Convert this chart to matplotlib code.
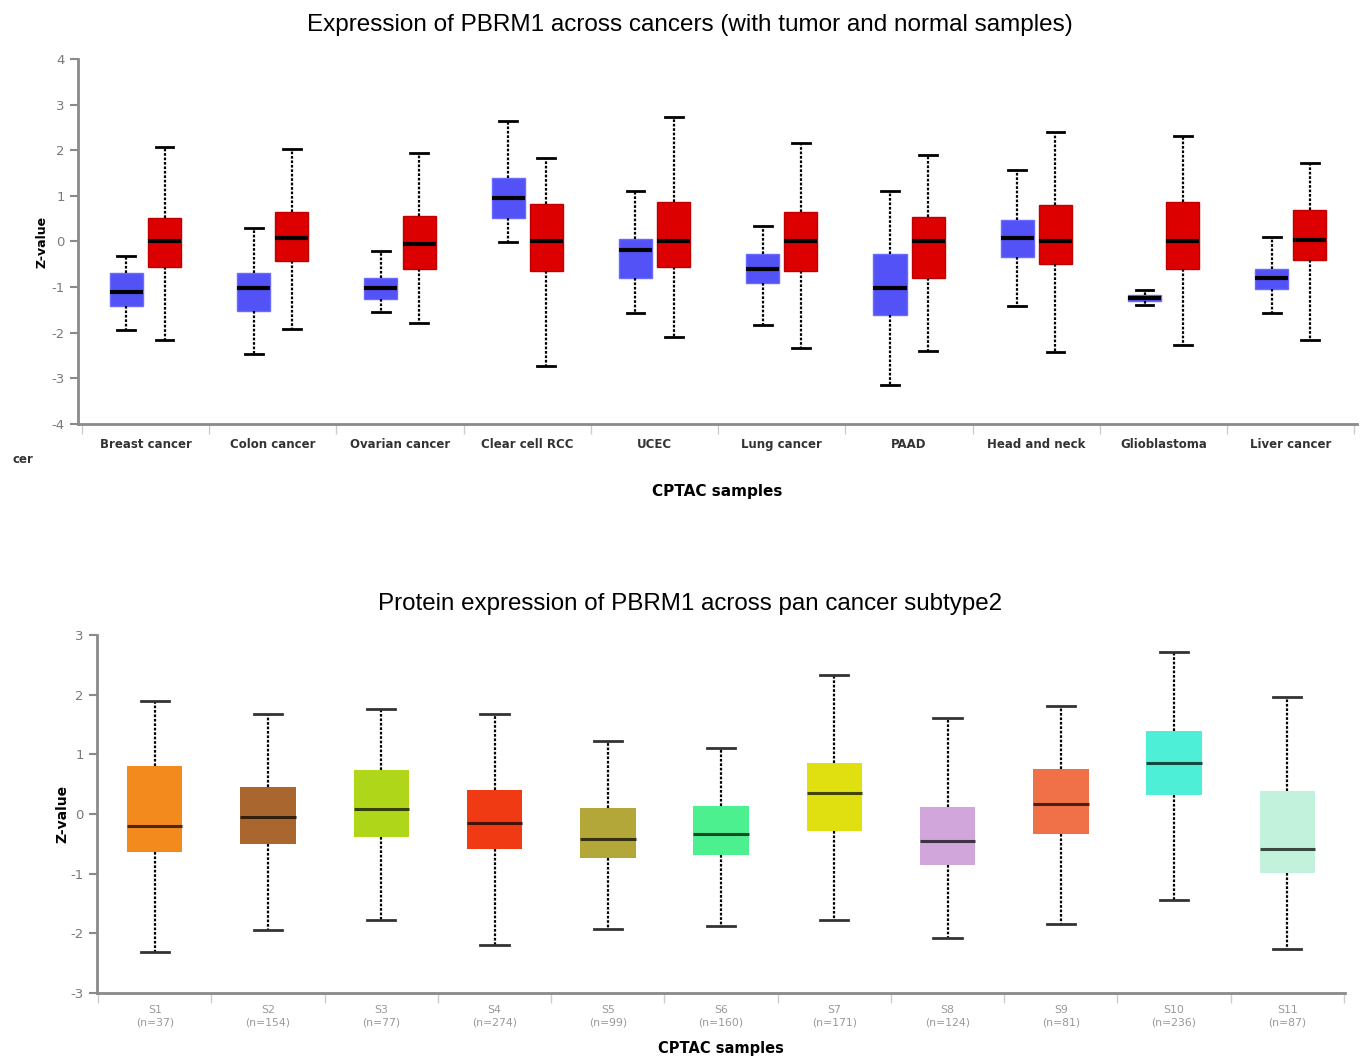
import matplotlib
matplotlib.use("Agg")
import matplotlib.pyplot as plt
import numpy as np
from matplotlib.colors import to_rgb

plt.rcParams['axes.unicode_minus'] = False

# ---- Top chart data: tumor vs normal per cancer ----
cancers = ['Breast cancer', 'Colon cancer', 'Ovarian cancer', 'Clear cell RCC', 'UCEC',
           'Lung cancer', 'PAAD', 'Head and neck', 'Glioblastoma', 'Liver cancer']

normal_low = [-1.94, -2.46, -1.54, -0.02, -1.57, -1.82, -3.15, -1.41, -1.39, -1.57]
normal_q1 = [-1.42, -1.52, -1.25, 0.52, -0.79, -0.91, -1.61, -0.35, -1.30, -1.04]
normal_med = [-1.10, -1.03, -1.03, 0.95, -0.18, -0.60, -1.01, 0.07, -1.23, -0.81]
normal_q3 = [-0.68, -0.68, -0.79, 1.39, 0.05, -0.27, -0.27, 0.46, -1.17, -0.60]
normal_high = [-0.32, 0.30, -0.20, 2.65, 1.10, 0.33, 1.10, 1.57, -1.06, 0.10]

tumor_low = [-2.17, -1.92, -1.79, -2.74, -2.09, -2.34, -2.40, -2.43, -2.27, -2.17]
tumor_q1 = [-0.57, -0.42, -0.60, -0.65, -0.57, -0.65, -0.81, -0.50, -0.60, -0.40]
tumor_med = [0.00, 0.07, -0.06, 0.01, 0.01, 0.01, 0.01, 0.01, 0.00, 0.04]
tumor_q3 = [0.52, 0.64, 0.55, 0.82, 0.86, 0.65, 0.54, 0.79, 0.86, 0.68]
tumor_high = [2.08, 2.02, 1.94, 1.82, 2.72, 2.15, 1.90, 2.39, 2.32, 1.72]

# ---- Bottom chart data: subtypes ----
subtypes = ['S1', 'S2', 'S3', 'S4', 'S5', 'S6', 'S7', 'S8', 'S9', 'S10', 'S11']
sub_n = [37, 154, 77, 274, 99, 160, 171, 124, 81, 236, 87]
sub_low = [-2.32, -1.94, -1.77, -2.20, -1.92, -1.88, -1.77, -2.08, -1.84, -1.44, -2.26]
sub_q1 = [-0.64, -0.51, -0.39, -0.58, -0.73, -0.69, -0.28, -0.86, -0.34, 0.32, -0.99]
sub_med = [-0.20, -0.05, 0.09, -0.15, -0.42, -0.33, 0.36, -0.46, 0.17, 0.85, -0.59]
sub_q3 = [0.80, 0.46, 0.73, 0.41, 0.10, 0.13, 0.85, 0.11, 0.75, 1.39, 0.38]
sub_high = [1.89, 1.68, 1.76, 1.68, 1.23, 1.10, 2.33, 1.61, 1.81, 2.71, 1.96]
sub_colors = ['#F28A1E', '#A9672F', '#B0D61A', '#F03A14', '#B3A73A', '#4DF08E',
              '#E0E010', '#D1A6DB', '#F07048', '#4DF0D6', '#C2F2DC']

axis_gray = '#8a8a8a'
label_gray = '#7a7a7a'


def make_stats(low, q1, med, q3, high):
    return [dict(whislo=a, q1=b, med=c, q3=d, whishi=e, fliers=[])
            for a, b, c, d, e in zip(low, q1, med, q3, high)]


def style_axes(ax):
    for s in ['top', 'right']:
        ax.spines[s].set_visible(False)
    for s in ['left', 'bottom']:
        ax.spines[s].set_color(axis_gray)
        ax.spines[s].set_linewidth(2)
    ax.tick_params(axis='y', colors=axis_gray, labelcolor=label_gray, length=6, width=1.5)
    ax.tick_params(axis='x', which='major', length=0)
    ax.tick_params(axis='x', which='minor', length=7, width=1, color='#cccccc')


fig = plt.figure(figsize=(13.64, 10.61), dpi=100)

# ---------------- top chart ----------------
ax1 = fig.add_axes([0.0572, 0.6004, 0.9377, 0.344])
pos = np.arange(1, len(cancers) + 1)
whisk = dict(color='black', linestyle=(0, (1.2, 0.8)), linewidth=1.6)
caps = dict(color='black', linewidth=2)
b1 = ax1.bxp(make_stats(normal_low, normal_q1, normal_med, normal_q3, normal_high),
             positions=pos - 0.15, widths=0.26, patch_artist=True, showfliers=False,
             whiskerprops=whisk, capprops=caps, capwidths=0.14,
             medianprops=dict(color='black', linewidth=3),
             boxprops=dict(facecolor='#5252F7', edgecolor='#6a6aff', linewidth=1))
b2 = ax1.bxp(make_stats(tumor_low, tumor_q1, tumor_med, tumor_q3, tumor_high),
             positions=pos + 0.15, widths=0.26, patch_artist=True, showfliers=False,
             whiskerprops=whisk, capprops=caps, capwidths=0.14,
             medianprops=dict(color='black', linewidth=3),
             boxprops=dict(facecolor='#DD0000', edgecolor='#c00000', linewidth=1))
ax1.set_xlim(0.47, 10.52)
ax1.set_ylim(-4, 4)
ax1.set_yticks(range(-4, 5))
ax1.set_xticks(pos)
ax1.set_xticks(np.arange(0.5, 11.0, 1.0), minor=True)
ax1.set_xticklabels(cancers, fontsize=8.5, fontweight='bold', color='#333333')
style_axes(ax1)
ax1.tick_params(axis='y', labelsize=9.5)
ax1.tick_params(axis='x', which='major', pad=10)
ax1.set_ylabel('Z-value', fontsize=9, fontweight='bold', labelpad=2)
ax1.set_xlabel('CPTAC samples', fontsize=11, fontweight='bold', labelpad=24)
fig.text(0.506, 0.976, 'Expression of PBRM1 across cancers (with tumor and normal samples)',
         fontsize=17.5, family='Liberation Sans', ha='center', va='center')
fig.text(0.009, 0.564, 'cer', fontsize=8.5, fontweight='bold', color='#333333')

# ---------------- bottom chart ----------------
ax2 = fig.add_axes([0.0711, 0.0641, 0.915, 0.3374])
pos2 = np.arange(1, len(subtypes) + 1)
b3 = ax2.bxp(make_stats(sub_low, sub_q1, sub_med, sub_q3, sub_high),
             positions=pos2, widths=0.49, patch_artist=True, showfliers=False,
             whiskerprops=dict(color='black', linestyle=(0, (1.2, 0.8)), linewidth=1.6),
             capprops=dict(color='#333333', linewidth=2), capwidths=0.25,
             medianprops=dict(linewidth=2.2),
             boxprops=dict(linewidth=0))
for patch, med, c in zip(b3['boxes'], b3['medians'], sub_colors):
    patch.set_facecolor(c)
    patch.set_edgecolor(c)
    med.set_color(tuple(v * 0.3 for v in to_rgb(c)))
ax2.set_xlim(0.49, 11.51)
ax2.set_ylim(-3, 3)
ax2.set_yticks(range(-3, 4))
ax2.set_xticks(pos2)
ax2.set_xticks(np.arange(0.5, 12.0, 1.0), minor=True)
ax2.set_xticklabels([f'{s}\n(n={n})' for s, n in zip(subtypes, sub_n)],
                    fontsize=7.8, color='#999999', linespacing=1.25)
style_axes(ax2)
ax2.tick_params(axis='y', labelsize=9.5)
ax2.tick_params(axis='x', which='major', pad=9)
ax2.set_ylabel('Z-value', fontsize=10, fontweight='bold', labelpad=1)
ax2.set_xlabel('CPTAC samples', fontsize=10.5, fontweight='bold', labelpad=10)
fig.text(0.506, 0.431, 'Protein expression of PBRM1 across pan cancer subtype2',
         fontsize=17.4, family='Liberation Sans', ha='center', va='center')

fig.savefig('out.png', dpi=100, facecolor='white')
